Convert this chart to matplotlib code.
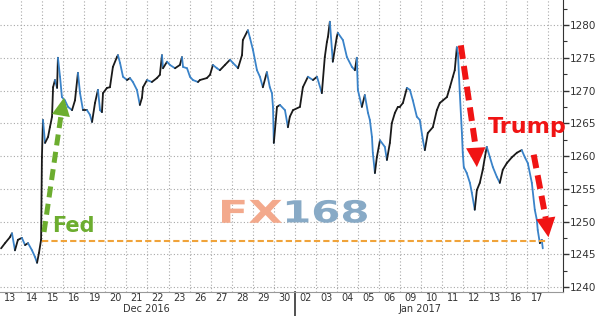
import numpy as np
import matplotlib.pyplot as plt
import matplotlib.transforms as mtransforms
from matplotlib.collections import LineCollection
from matplotlib.textpath import TextPath
from matplotlib.patches import PathPatch, FancyArrowPatch
from matplotlib.font_manager import FontProperties

# trading days on the x axis (Dec 13 2016 .. Jan 17 2017)
day_labels = ['13', '14', '15', '16', '19', '20', '21', '22', '23', '26', '27', '28', '29', '30',
              '02', '03', '04', '05', '06', '09', '10', '11', '12', '13', '16', '17']
month_labels = ['Dec 2016', 'Jan 2017']
month_pos = [6.97, 19.93]
year_break = 14

# gold price (time in trading days from Dec 13)
t = [0.05, 0.24, 0.47, 0.57, 0.71, 0.85, 1.04, 1.19, 1.33, 1.52, 1.66, 1.76, 1.85, 1.95,
     1.99, 2.04, 2.14, 2.28, 2.37, 2.47, 2.52, 2.61, 2.71, 2.75, 2.85, 2.94, 3.08, 3.23,
     3.42, 3.56, 3.70, 3.80, 3.94, 4.13, 4.27, 4.37, 4.51, 4.65, 4.75, 4.84, 4.89, 5.08,
     5.22, 5.36, 5.55, 5.60, 5.70, 5.84, 6.03, 6.17, 6.31, 6.50, 6.64, 6.74, 6.79, 6.98,
     7.21, 7.45, 7.59, 7.69, 7.74, 7.93, 8.07, 8.31, 8.54, 8.64, 8.69, 8.88, 9.02, 9.16,
     9.40, 9.49, 9.82, 9.97, 10.11, 10.30, 10.44, 10.68, 10.92, 11.06, 11.25, 11.30, 11.49,
     11.53, 11.72, 11.77, 11.87, 12.01, 12.20, 12.34, 12.48, 12.67, 12.81, 12.91, 12.96,
     13.00, 13.15, 13.29, 13.53, 13.67, 13.76, 13.91, 14.24, 14.38, 14.62, 14.86, 15.05,
     15.28, 15.42, 15.52, 15.57, 15.66, 15.76, 15.80, 15.99, 16.04, 16.28, 16.47, 16.71,
     16.85, 16.94, 16.99, 17.18, 17.32, 17.47, 17.56, 17.66, 17.70, 17.80, 17.89, 18.04,
     18.27, 18.37, 18.51, 18.60, 18.75, 18.89, 18.98, 19.13, 19.32, 19.46, 19.60, 19.79,
     19.93, 20.08, 20.17, 20.31, 20.55, 20.74, 20.88, 21.03, 21.22, 21.36, 21.50, 21.59,
     21.69, 21.74, 21.83, 21.93, 21.97, 22.02, 22.16, 22.31, 22.40, 22.54, 22.64, 22.78,
     22.92, 23.02, 23.11, 23.26, 23.40, 23.59, 23.73, 23.87, 24.06, 24.30, 24.54, 24.77,
     24.92, 25.06, 25.25, 25.39, 25.49, 25.53, 25.63, 25.72, 25.77]
price = [1245.9, 1246.7, 1247.6, 1248.2, 1245.6, 1247.2, 1247.5, 1246.4, 1246.7, 1245.6,
         1244.6, 1243.7, 1245.2, 1247.2, 1259.8, 1265.5, 1262.0, 1262.9, 1264.4, 1266.0,
         1270.5, 1271.6, 1270.4, 1275.0, 1272.1, 1269.0, 1268.5, 1267.5, 1267.0, 1268.5,
         1272.7, 1269.6, 1267.0, 1267.0, 1266.3, 1265.2, 1268.1, 1270.1, 1267.0, 1266.7,
         1269.6, 1270.4, 1270.5, 1273.6, 1275.1, 1275.4, 1274.2, 1272.1, 1271.6, 1271.9,
         1271.3, 1270.1, 1267.8, 1268.9, 1270.5, 1271.6, 1271.3, 1271.9, 1272.4, 1275.4,
         1273.4, 1274.4, 1273.9, 1273.4, 1273.9, 1275.1, 1273.6, 1273.4, 1272.1, 1271.6,
         1271.3, 1271.6, 1271.9, 1272.4, 1273.9, 1273.4, 1273.1, 1273.9, 1274.7, 1274.2,
         1273.6, 1273.4, 1275.4, 1277.7, 1278.9, 1279.2, 1278.0, 1276.2, 1273.1, 1272.1,
         1270.5, 1272.8, 1270.5, 1269.6, 1267.5, 1262.0, 1267.5, 1267.8, 1267.0, 1264.4,
         1266.0, 1267.0, 1267.5, 1270.5, 1272.1, 1271.6, 1272.1, 1269.6, 1275.1, 1277.4,
         1278.2, 1280.5, 1276.2, 1274.4, 1278.2, 1278.8, 1277.7, 1275.1, 1273.6, 1273.1,
         1275.0, 1270.1, 1267.5, 1269.3, 1266.6, 1265.5, 1262.9, 1260.5, 1257.4, 1259.8,
         1262.4, 1261.4, 1259.4, 1262.0, 1265.0, 1266.6, 1267.5, 1267.5, 1268.1, 1270.4,
         1270.1, 1268.5, 1266.0, 1265.5, 1262.4, 1260.9, 1263.5, 1264.4, 1267.0, 1268.1,
         1268.5, 1269.0, 1270.5, 1272.1, 1273.1, 1276.6, 1275.7, 1269.6, 1263.5, 1260.5,
         1258.3, 1257.4, 1255.9, 1254.4, 1251.8, 1254.8, 1255.9, 1257.9, 1259.8, 1261.4,
         1259.8, 1258.3, 1256.8, 1255.9, 1257.9, 1258.9, 1259.8, 1260.5, 1260.9, 1259.8,
         1258.9, 1255.9, 1251.8, 1250.2, 1248.7, 1246.7, 1247.2, 1245.9]

last_price = 1245.87
fed_level = 1247.0
fed_span = [1.99, 26.0]

# annotation arrows: tail, head base, tip  (day, price)
fed_arrow = [(2.09, 1248.4), (2.90, 1266.3), (3.04, 1268.9)]
trump_arrows = [[(21.88, 1276.9), (22.59, 1261.2), (22.64, 1258.3)],
                [(25.34, 1260.2), (25.91, 1250.5), (26.04, 1247.6)]]

# watermark boxes (day0, day1, price0, price1)
wm_fx = (10.54, 13.38, 1249.8, 1253.3)
wm_168 = (13.62, 17.42, 1249.8, 1253.3)

fig = plt.figure(figsize=(6, 3.16), dpi=100)
ax = fig.add_axes([0, 0.076, 0.938, 0.924])

# price line: rising pieces black, falling pieces blue
pts = np.column_stack([t, price])
segs = np.stack([pts[:-1], pts[1:]], axis=1)
cols = ['#1a1a1a' if b >= a else '#3a83c9' for a, b in zip(price[:-1], price[1:])]
lc = LineCollection(segs, colors=cols, linewidths=1.3, capstyle='round', zorder=3)
ax.add_collection(lc)

ax.set_xlim(0, 26.72)
ax.set_ylim(1239.24, 1283.82)

# grid
ax.set_xticks(np.arange(1, 27))
ax.set_yticks(np.arange(1240, 1281, 5))
ax.set_yticks(np.arange(1242.5, 1283, 5), minor=True)
ax.grid(True, which='major', color='#a8a8a8', lw=0.8, linestyle=(0, (1, 2)))
ax.set_xticklabels([])
ax.tick_params(axis='x', length=0)
ax.yaxis.tick_right()
ax.tick_params(axis='y', which='major', length=4, width=1, color='#333333',
               labelsize=7.5, labelcolor='#333333', pad=1)
ax.tick_params(axis='y', which='minor', length=3, width=0.8, color='#333333')

for s in ['left', 'top']:
    ax.spines[s].set_visible(False)
ax.spines['right'].set_color('#333333')
ax.spines['bottom'].set_color('#999999')
ax.spines['bottom'].set_linewidth(0.8)

# day labels centred in each day
bt = mtransforms.blended_transform_factory(ax.transData, ax.transAxes)
for i, lab in enumerate(day_labels):
    ax.text(i + 0.5, -0.022, lab, transform=bt, ha='center', va='center',
            fontsize=7, color='#333333')
for lab, xp in zip(month_labels, month_pos):
    ax.text(xp, -0.057, lab, transform=bt, ha='center', va='center',
            fontsize=7, color='#333333')
ax.plot([year_break, year_break], [0, -0.09], transform=bt, color='#333333',
        lw=1.2, clip_on=False)

# Fed level
ax.plot(fed_span, [fed_level, fed_level], color='#f0a33a', lw=1.5,
        dashes=(3, 1.5), zorder=4)


# watermark, stretched to fill its box
def fitted_text(s, box, color):
    tp = TextPath((0, 0), s, size=1, prop=FontProperties(family='DejaVu Sans', weight='bold'))
    ext = tp.get_extents()
    x0, x1, y0, y1 = box
    tr = (mtransforms.Affine2D().translate(-ext.x0, -ext.y0)
          .scale((x1 - x0) / ext.width, (y1 - y0) / ext.height).translate(x0, y0))
    ax.add_patch(PathPatch(tr.transform_path(tp), fc=color, ec='none', zorder=2))


fitted_text('FX', wm_fx, '#f3a98c')
fitted_text('168', wm_168, '#88aac6')


def dashed_arrow(pts3, color, lw, dashes, hl, hw):
    (x0, y0), (x1, y1), (x2, y2) = pts3
    ax.plot([x0, x1], [y0, y1], color=color, lw=lw, dashes=dashes,
            solid_capstyle='butt', dash_capstyle='butt', zorder=5)
    head = FancyArrowPatch((x1, y1), (x2, y2),
                           arrowstyle='-|>,head_length=%s,head_width=%s' % (hl, hw),
                           color=color, lw=0, shrinkA=0, shrinkB=0,
                           mutation_scale=10, zorder=5)
    ax.add_patch(head)


dashed_arrow(fed_arrow, '#6cad2f', 3.6, (2.2, 1.3), 1.3, 0.65)
for arr in trump_arrows:
    dashed_arrow(arr, '#f01414', 4.3, (2.3, 1.2), 1.4, 0.7)

ax.text(2.47, 1248.4, 'Fed', fontsize=15, fontweight='bold', color='#6cad2f',
        ha='left', va='baseline', zorder=6)
ax.text(23.16, 1263.5, 'Trump', fontsize=16, fontweight='bold', color='#f01414',
        ha='left', va='baseline', zorder=6)

# last price tag
ax.text(1.01, last_price, '%.2f' % last_price, transform=bt, ha='left', va='center',
        fontsize=7.5, color='white',
        bbox=dict(boxstyle='larrow,pad=0.15', fc='black', ec='black'), clip_on=False)

fig.savefig('out.png', dpi=100)
